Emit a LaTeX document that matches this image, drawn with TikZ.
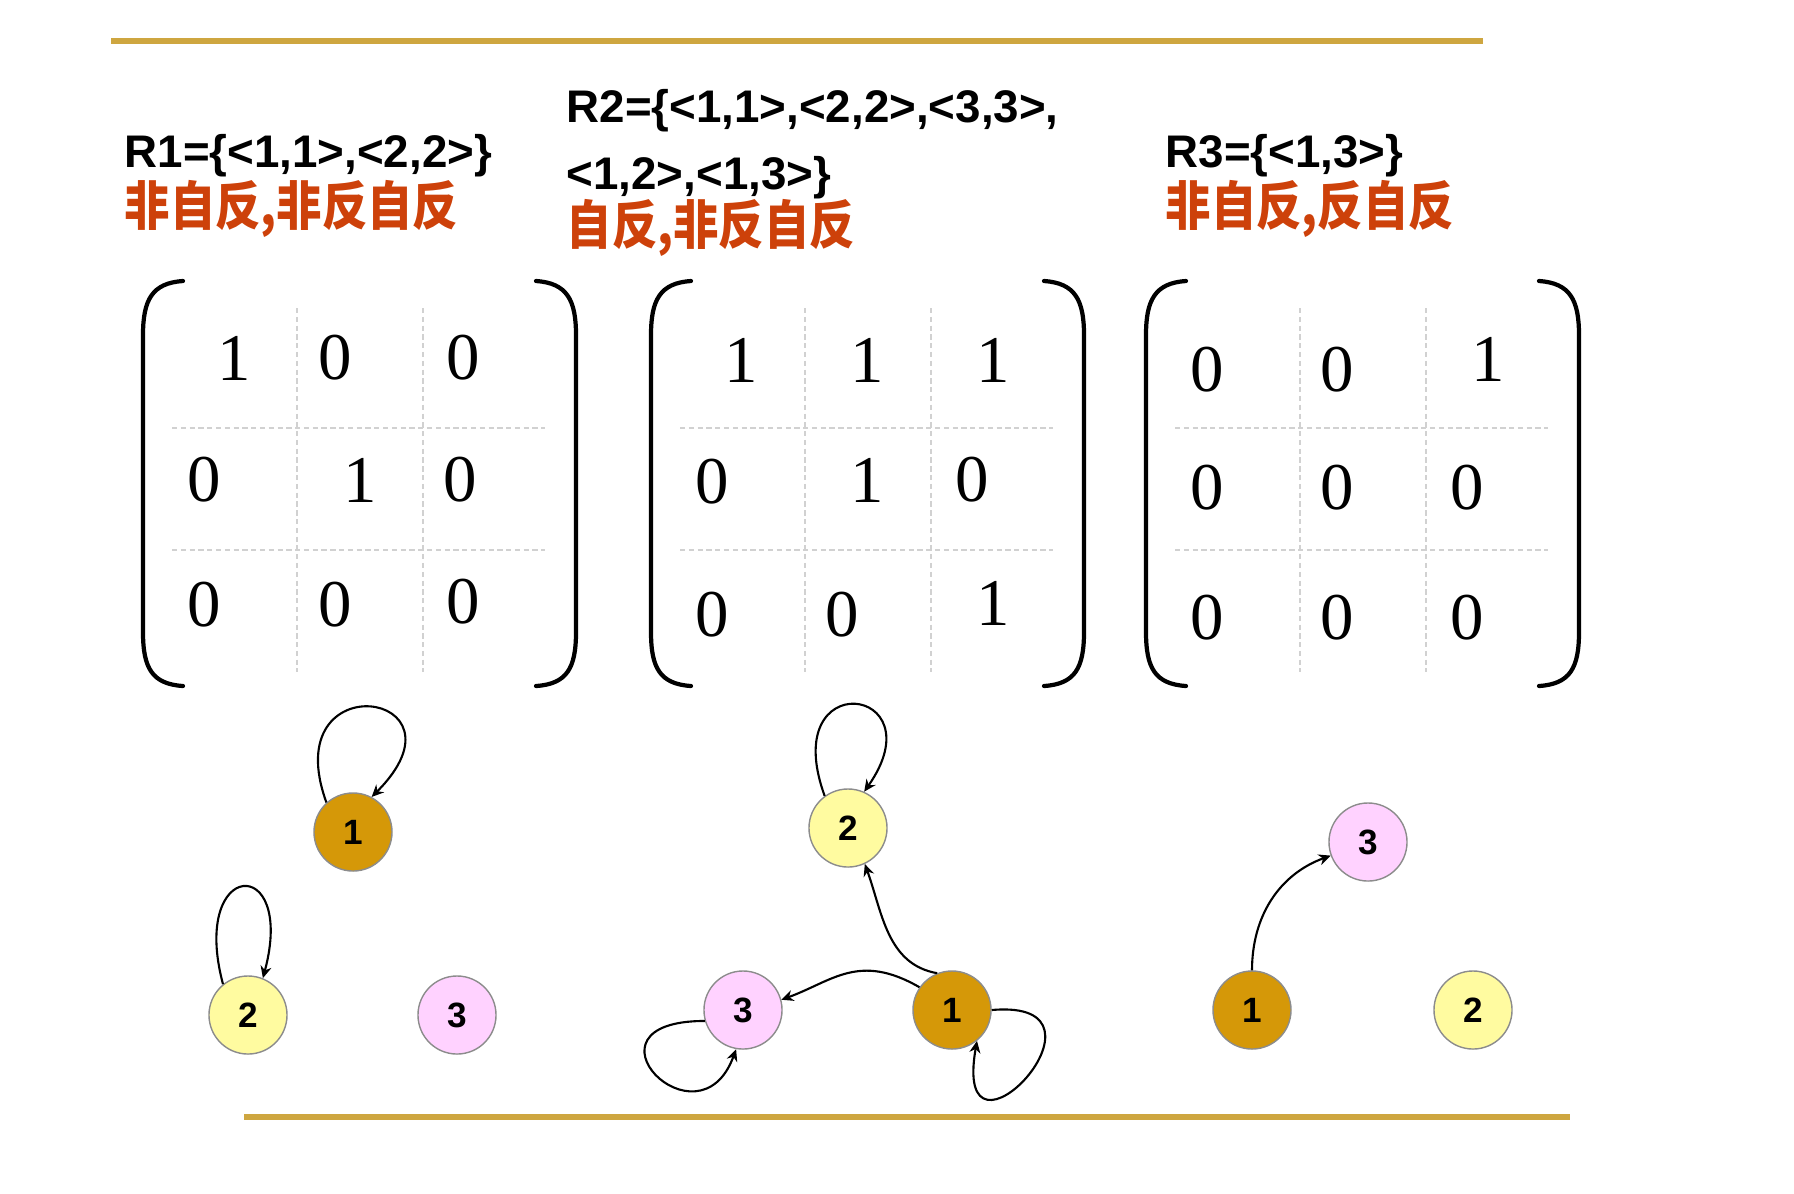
\documentclass[tikz,border=0pt]{standalone}
\usepackage{fontspec}
\setmainfont{Liberation Serif}
\setsansfont{Liberation Sans}
\newfontfamily\cjk{Noto Sans CJK SC}[FakeStretch=0.86]
\usetikzlibrary{arrows.meta}

\definecolor{rulegold}{HTML}{CEA640}
\definecolor{propred}{HTML}{CD410A}
\definecolor{vtxgold}{HTML}{D59808}
\definecolor{vtxyellow}{HTML}{FFFBA0}
\definecolor{vtxpink}{HTML}{FFD2FF}

\begin{document}
\begin{tikzpicture}[
  x=0.01cm, y=-0.01cm,
  goldrule/.style={rulegold, line width=1.5pt},
  relname/.style={font=\sffamily\bfseries\fontsize{13}{15}\selectfont,
    anchor=base west, inner sep=0pt},
  propname/.style={font=\cjk\bfseries\fontsize{15}{17}\selectfont,
    text=propred, anchor=base west, inner sep=0pt},
  paren/.style={line width=1.2pt, line cap=round},
  gridline/.style={black!18, line width=0.4pt, dash pattern=on 1.5pt off 1pt},
  entry/.style={font=\fontsize{19}{20}\selectfont, inner sep=0pt},
  vtx/.style={circle, draw=black!45, line width=0.4pt, minimum size=0.78cm,
    inner sep=0pt, font=\sffamily\bfseries\fontsize{10}{12}\selectfont},
  one/.style={vtx, fill=vtxgold},
  two/.style={vtx, fill=vtxyellow},
  three/.style={vtx, fill=vtxpink},
  arc/.style={-{Stealth[length=1.2mm, width=1.1mm]}, line width=0.6pt},
]
\useasboundingbox (0,0) rectangle (1794,1193);

% gold rules
\draw[goldrule] (111,41) -- (1483,41);
\draw[goldrule] (244,1117) -- (1570,1117);

% relation labels
\node[relname] (r1) at (124,167) {R1=\{<1,1>,<2,2>\}};
\node[propname] (p1) at (124,225) {非自反,非反自反};
\node[relname] (r2a) at (566,122) {R2=\{<1,1>,<2,2>,<3,3>,};
\node[relname] (r2b) at (566,189) {<1,2>,<1,3>\}};
\node[propname] (p2) at (566,244) {自反,非反自反};
\node[relname] (r3) at (1165,167) {R3=\{<1,3>\}};
\node[propname] (p3) at (1165,225) {非自反,反自反};

% matrix of R1
\draw[paren] (183,281) .. controls (152,283) and (143,300) .. (143,335) -- (143,632)
  .. controls (143,668) and (152,684) .. (183,686);
\draw[paren] (536,281) .. controls (567,283) and (576,300) .. (576,335) -- (576,632)
  .. controls (576,668) and (567,684) .. (536,686);
\draw[gridline] (297,308) -- (297,672);
\draw[gridline] (423,308) -- (423,672);
\draw[gridline] (172,428) -- (545,428);
\draw[gridline] (172,550) -- (545,550);
\node[entry] (m1_11) at (234,358) {1};
\node[entry] (m1_12) at (335,358) {0};
\node[entry] (m1_13) at (463,358) {0};
\node[entry] (m1_21) at (204,480) {0};
\node[entry] (m1_22) at (360,480) {1};
\node[entry] (m1_23) at (460,480) {0};
\node[entry] (m1_31) at (204,605) {0};
\node[entry] (m1_32) at (335,605) {0};
\node[entry] (m1_33) at (463,602) {0};

% matrix of R2
\draw[paren] (691,281) .. controls (660,283) and (651,300) .. (651,335) -- (651,632)
  .. controls (651,668) and (660,684) .. (691,686);
\draw[paren] (1044,281) .. controls (1075,283) and (1084,300) .. (1084,335) -- (1084,632)
  .. controls (1084,668) and (1075,684) .. (1044,686);
\draw[gridline] (805,308) -- (805,672);
\draw[gridline] (931,308) -- (931,672);
\draw[gridline] (680,428) -- (1053,428);
\draw[gridline] (680,550) -- (1053,550);
\node[entry] (m2_11) at (741,360) {1};
\node[entry] (m2_12) at (867,360) {1};
\node[entry] (m2_13) at (993,360) {1};
\node[entry] (m2_21) at (712,482) {0};
\node[entry] (m2_22) at (867,480) {1};
\node[entry] (m2_23) at (972,480) {0};
\node[entry] (m2_31) at (712,615) {0};
\node[entry] (m2_32) at (842,615) {0};
\node[entry] (m2_33) at (993,603) {1};

% matrix of R3
\draw[paren] (1186,281) .. controls (1155,283) and (1146,300) .. (1146,335) -- (1146,632)
  .. controls (1146,668) and (1155,684) .. (1186,686);
\draw[paren] (1539,281) .. controls (1570,283) and (1579,300) .. (1579,335) -- (1579,632)
  .. controls (1579,668) and (1570,684) .. (1539,686);
\draw[gridline] (1300,308) -- (1300,672);
\draw[gridline] (1426,308) -- (1426,672);
\draw[gridline] (1175,428) -- (1548,428);
\draw[gridline] (1175,550) -- (1548,550);
\node[entry] (m3_11) at (1207,370) {0};
\node[entry] (m3_12) at (1337,370) {0};
\node[entry] (m3_13) at (1488,359) {1};
\node[entry] (m3_21) at (1207,488) {0};
\node[entry] (m3_22) at (1337,488) {0};
\node[entry] (m3_23) at (1467,488) {0};
\node[entry] (m3_31) at (1207,618) {0};
\node[entry] (m3_32) at (1337,618) {0};
\node[entry] (m3_33) at (1467,618) {0};

% graph of R1
\node[one] (a1) at (353,832) {1};
\node[two] (a2) at (248,1015) {2};
\node[three] (a3) at (457,1015) {3};
\draw[arc] (a1.132) to[out=110, in=45, out distance=1.5cm, in distance=1.5cm] (a1.62);
\draw[arc] (a2.129) to[out=105, in=75, out distance=1.3cm, in distance=1.3cm] (a2.68);

% graph of R2
\node[one] (b1) at (952,1010) {1};
\node[two] (b2) at (848,828) {2};
\node[three] (b3) at (743,1010) {3};
\draw[arc] (b2.126) to[out=110, in=55, out distance=1.4cm, in distance=1.3cm] (b2.66);
\draw[arc] (b3.196) to[out=180, in=250, out distance=1.35cm, in distance=1.1cm] (b3.260);
\draw[arc] (b1.0) to[out=5, in=260, out distance=1.4cm, in distance=1.5cm] (b1.309);
\draw[arc] (b1.112) to[out=170, in=-70] (b2.-65);
\draw[arc] (b1.145) to[out=150, in=20, out distance=0.7cm] (b3.15);

% graph of R3
\node[one] (c1) at (1252,1010) {1};
\node[two] (c2) at (1473,1010) {2};
\node[three] (c3) at (1368,842) {3};
\draw[arc] (c1) to[out=90, in=200] (c3);

\end{tikzpicture}
\end{document}
